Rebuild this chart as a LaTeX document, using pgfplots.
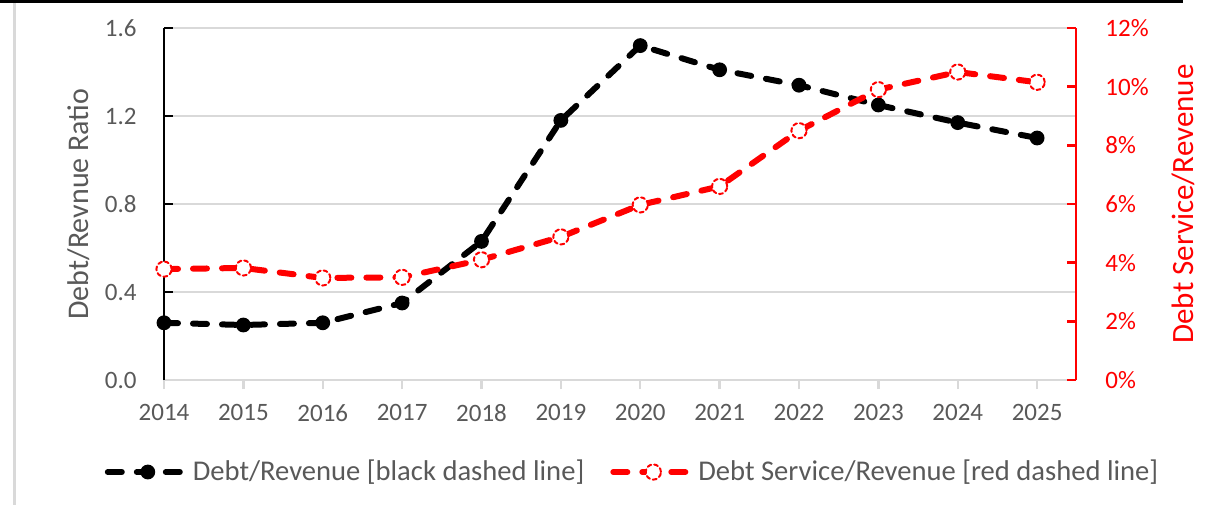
\documentclass[border=0pt]{standalone}
\usepackage{pgfplots}
\pgfplotsset{compat=1.18}
\usepackage{fontspec}
\setmainfont{Carlito}
\definecolor{txtgrey}{HTML}{595959}
\definecolor{gridgrey}{HTML}{D9D9D9}
\definecolor{xred}{HTML}{FF0000}
\begin{document}
\begin{tikzpicture}
\useasboundingbox (0pt,0pt) rectangle (614.5pt,252.5pt);
\fill[black] (0pt,251pt) rectangle (591.5pt,252.5pt);
\fill[gridgrey] (6.5pt,0pt) rectangle (8pt,251pt);
\begin{axis}[
  at={(82pt,62.5pt)}, anchor=south west,
  scale only axis, width=456pt, height=176pt,
  xmin=2014, xmax=2025.49, ymin=0, ymax=1.6,
  clip=false,
  axis x line*=bottom, axis y line*=left,
  x axis line style={-, gridgrey, line width=1.2pt},
  y axis line style={-, black, line width=1.2pt},
  xtick={2014,2015,2016,2017,2018,2019,2020,2021,2022,2023,2024,2025},
  xticklabels={2014,2015,2016,2017,2018,2019,2020,2021,2022,2023,2024,2025},
  ytick={0,0.4,0.8,1.2,1.6},
  yticklabels={0.0,0.4,0.8,1.2,1.6},
  tick align=inside,
  major tick length=4.5pt,
  xtick style={gridgrey, line width=1.2pt, yshift=-4.5pt},
  ytick style={black, line width=1.2pt},
  ymajorgrids,
  major grid style={gridgrey, line width=1pt},
  tick label style={font=\fontsize{12.5}{14}\selectfont, text=txtgrey, inner sep=0pt},
  xticklabel style={anchor=north, yshift=-12pt},
  yticklabel style={anchor=east, xshift=-13.5pt},
  ylabel={Debt/Revnue Ratio},
  ylabel style={at={(axis description cs:-0.094,0.5)}, anchor=center, font=\fontsize{15}{17}\selectfont, text=txtgrey},
]
\addplot[black, line width=3pt, dash pattern=on 7pt off 7.5pt, line cap=round,
  mark=*, mark size=3.3pt, mark options={solid, fill=black, line width=0.8pt}]
  coordinates {
  (2014,0.26) (2015,0.25) (2016,0.26) (2017,0.35) (2018,0.63) (2019,1.18)
  (2020,1.52) (2021,1.41) (2022,1.34) (2023,1.25) (2024,1.17) (2025,1.10)};
\end{axis}
\begin{axis}[
  at={(82pt,62.5pt)}, anchor=south west,
  scale only axis, width=456pt, height=176pt,
  xmin=2014, xmax=2025.49, ymin=0, ymax=12,
  clip=false,
  axis x line=none, axis y line*=right,
  y axis line style={-, xred, line width=1.2pt},
  ytick={0,2,4,6,8,10,12},
  yticklabels={0\%,2\%,4\%,6\%,8\%,10\%,12\%},
  tick align=inside,
  major tick length=4.5pt,
  ytick style={xred, line width=1.2pt},
  tick label style={font=\fontsize{12.5}{14}\selectfont, text=xred, inner sep=0pt},
  yticklabel style={anchor=west, xshift=14.5pt},
  ylabel={Debt Service/Revenue},
  ylabel style={at={(axis description cs:1.118,0.5)}, anchor=center, font=\fontsize{15.5}{17}\selectfont, text=xred},
  legend columns=2,
  legend style={at={(0.5137,-0.2614)}, anchor=center, draw=none, fill=none,
    font=\fontsize{14.3}{16}\selectfont, text=txtgrey,
    /tikz/every even column/.append style={column sep=12pt},
    nodes={inner sep=1pt}},
  legend image code/.code={
    \draw[mark repeat=2, mark phase=2, #1] plot coordinates {(0pt,0pt) (20pt,0pt) (40pt,0pt)};},
]
\addlegendimage{black, line width=3pt, dash pattern=on 7pt off 7.5pt, line cap=round,
  mark=*, mark size=3.3pt, mark options={solid, fill=black, line width=0.8pt}}
\addlegendentry{Debt/Revenue [black dashed line]}
\addplot[xred, line width=3pt, dash pattern=on 7pt off 7.5pt, line cap=round,
  mark=*, mark size=3.8pt, mark options={dash pattern=on 2pt off 1.5pt, fill=white, line width=1pt}]
  coordinates {
  (2014,3.78) (2015,3.82) (2016,3.48) (2017,3.50) (2018,4.10) (2019,4.88)
  (2020,5.97) (2021,6.60) (2022,8.50) (2023,9.90) (2024,10.50) (2025,10.15)};
\addlegendentry{Debt Service/Revenue [red dashed line]}
\end{axis}
\end{tikzpicture}
\end{document}
